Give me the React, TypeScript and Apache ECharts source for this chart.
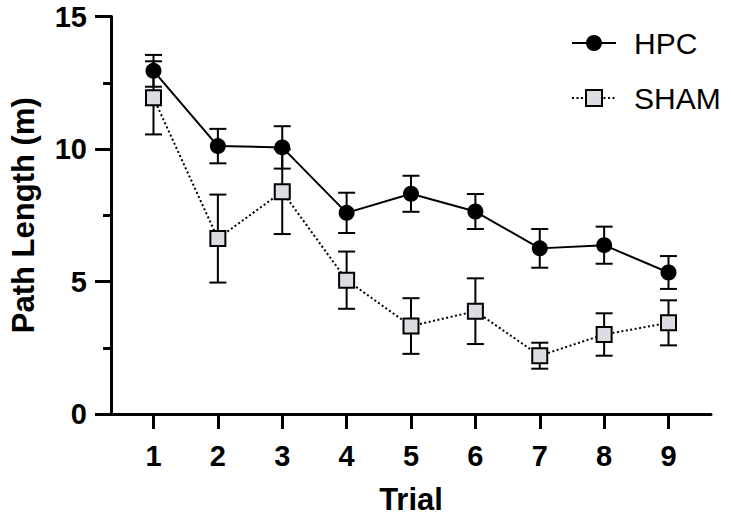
import React, { useEffect, useRef } from "react";
import * as echarts from "echarts";

const trials = [1, 2, 3, 4, 5, 6, 7, 8, 9];
const hpcMean = [12.95, 10.11, 10.06, 7.59, 8.31, 7.64, 6.25, 6.37, 5.34];
const hpcSem = [0.6, 0.65, 0.8, 0.76, 0.68, 0.66, 0.73, 0.7, 0.62];
const shamMean = [11.93, 6.62, 8.39, 5.05, 3.32, 3.88, 2.2, 3.0, 3.44];
const shamSem = [1.38, 1.66, 1.6, 1.08, 1.05, 1.24, 0.49, 0.8, 0.85];
const yTicks = [0, 5, 10, 15];

const FONT = "Liberation Sans";

function errData(means: number[], sems: number[]) {
  return trials.map((t, i) => [t, means[i] - sems[i], means[i] + sems[i]]);
}

function renderErr(params: any, api: any) {
  const x = api.value(0);
  const lo = api.coord([x, api.value(1)]);
  const hi = api.coord([x, api.value(2)]);
  const hw = 8.5;
  const style = { stroke: "#000", lineWidth: 2 };
  return {
    type: "group",
    children: [
      { type: "line", shape: { x1: hi[0], y1: hi[1], x2: lo[0], y2: lo[1] }, style },
      { type: "line", shape: { x1: hi[0] - hw, y1: hi[1], x2: hi[0] + hw, y2: hi[1] }, style },
      { type: "line", shape: { x1: lo[0] - hw, y1: lo[1], x2: lo[0] + hw, y2: lo[1] }, style },
    ],
  };
}

export default function App() {
  const ref = useRef<HTMLDivElement>(null);
  useEffect(() => {
    if (!ref.current) return;
    const chart = echarts.init(ref.current, null, { renderer: "svg" });
    chart.setOption({
      animation: false,
      backgroundColor: "#fff",
      grid: { left: 108, right: 20, top: 16.5, bottom: 103, containLabel: false },
      legend: {
        orient: "vertical",
        left: 566,
        top: 23,
        itemWidth: 44,
        itemHeight: 20,
        itemGap: 25,
        textStyle: { fontSize: 30, fontFamily: FONT, color: "#000", padding: [0, 0, 0, 13] },
        data: ["HPC", "SHAM"],
      },
      xAxis: {
        type: "value",
        min: 0.34,
        max: 9.66,
        name: "Trial",
        nameLocation: "middle",
        nameGap: 70,
        nameTextStyle: { fontSize: 31, fontWeight: "bold", fontFamily: FONT, color: "#000" },
        axisLine: { show: true, onZero: false, lineStyle: { color: "#000", width: 3 } },
        axisTick: { show: true, length: 15, lineStyle: { color: "#000", width: 3 }, customValues: trials },
        axisLabel: {
          fontSize: 29,
          fontWeight: "bold",
          fontFamily: FONT,
          color: "#000",
          margin: 27,
          customValues: trials,
        },
        splitLine: { show: false },
      },
      yAxis: {
        type: "value",
        min: 0,
        max: 15,
        interval: 5,
        name: "Path Length (m)",
        nameLocation: "middle",
        nameGap: 72,
        nameTextStyle: { fontSize: 31, fontWeight: "bold", fontFamily: FONT, color: "#000" },
        axisLine: { show: true, lineStyle: { color: "#000", width: 3 } },
        axisTick: { show: true, length: 16, lineStyle: { color: "#000", width: 3 } },
        minorTick: { show: true, splitNumber: 2, length: 8, lineStyle: { color: "#000", width: 3 } },
        axisLabel: {
          fontSize: 29,
          fontWeight: "bold",
          fontFamily: FONT,
          color: "#000",
          margin: 24,
          customValues: yTicks,
        },
        splitLine: { show: false },
      },
      series: [
        {
          type: "custom",
          name: "shamErr",
          renderItem: renderErr,
          data: errData(shamMean, shamSem),
          encode: { x: 0, y: [1, 2] },
          z: 1,
          silent: true,
        },
        {
          type: "custom",
          name: "hpcErr",
          renderItem: renderErr,
          data: errData(hpcMean, hpcSem),
          encode: { x: 0, y: [1, 2] },
          z: 1,
          silent: true,
        },
        {
          type: "line",
          name: "SHAM",
          data: trials.map((t, i) => [t, shamMean[i]]),
          symbol: "rect",
          symbolSize: 15,
          lineStyle: { color: "#000", width: 2, type: [2, 2.5] },
          itemStyle: { color: "#dcdde2", borderColor: "#000", borderWidth: 2 },
          z: 3,
        },
        {
          type: "line",
          name: "HPC",
          data: trials.map((t, i) => [t, hpcMean[i]]),
          symbol: "circle",
          symbolSize: 16,
          lineStyle: { color: "#000", width: 2 },
          itemStyle: { color: "#000", borderColor: "#000", borderWidth: 0 },
          z: 4,
        },
      ],
    });
    return () => chart.dispose();
  }, []);
  return (
    <div
      ref={ref}
      style={{ position: "fixed", left: 0, top: 0, width: 731, height: 520, background: "#fff" }}
    />
  );
}
